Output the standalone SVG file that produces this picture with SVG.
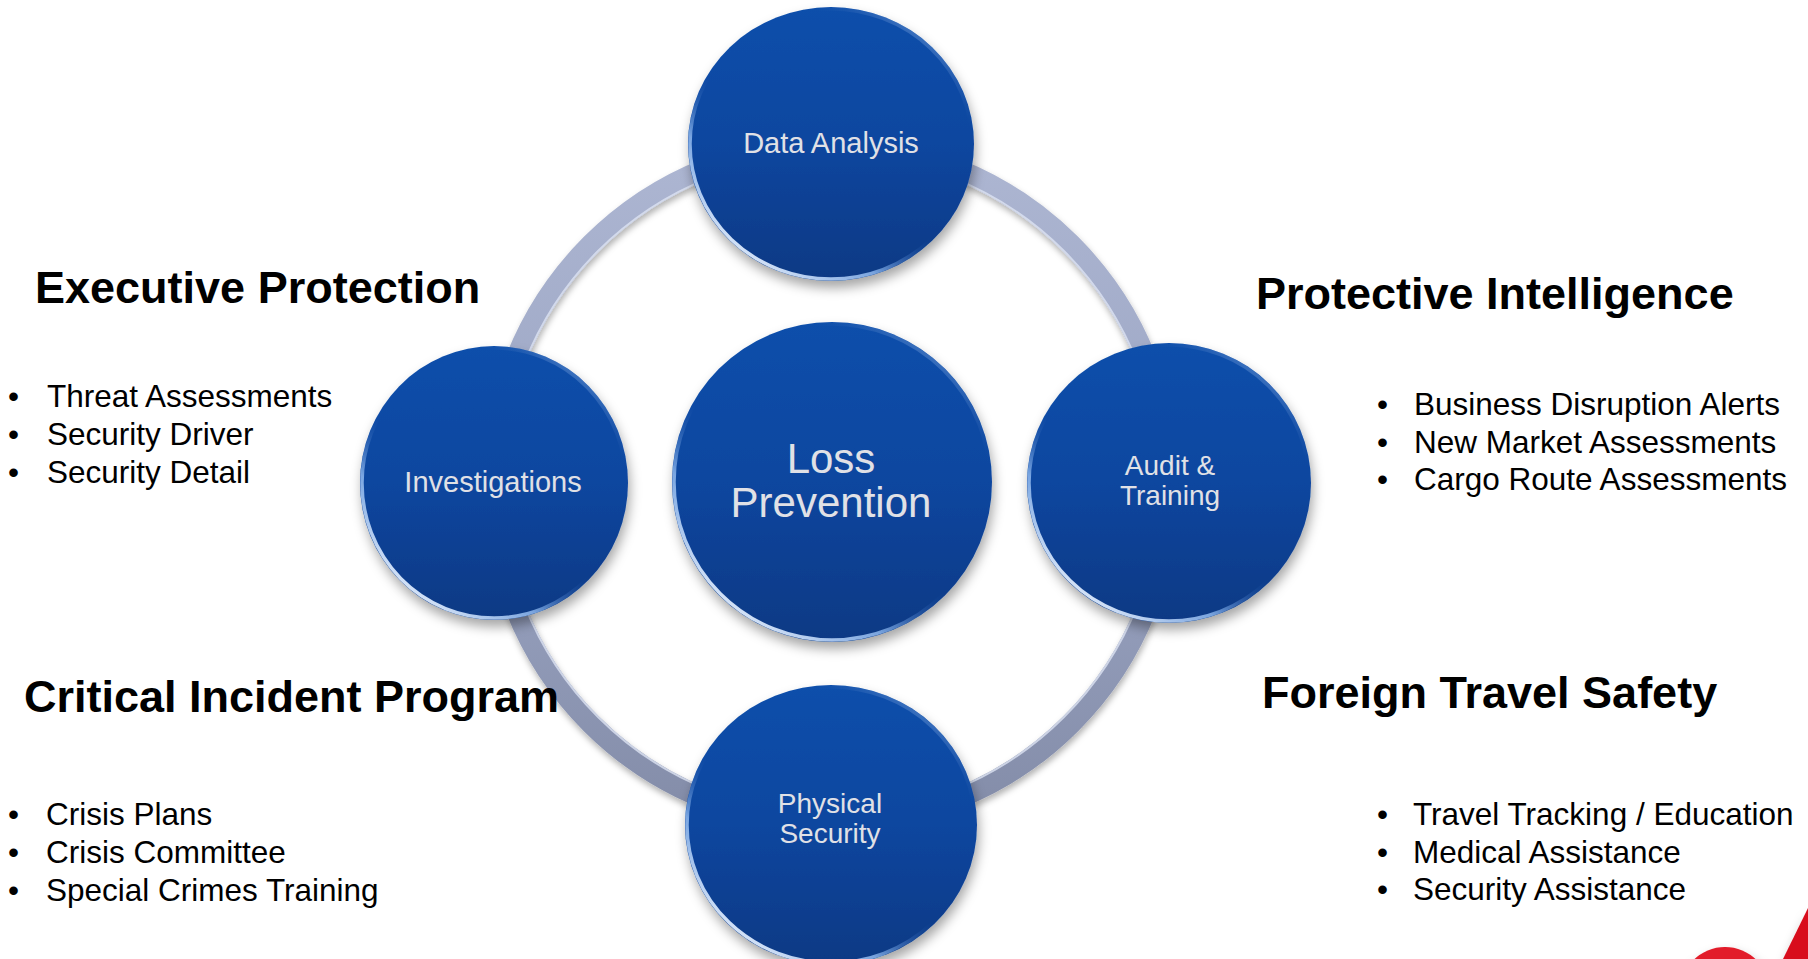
<svg xmlns="http://www.w3.org/2000/svg" width="1808" height="959" viewBox="0 0 1808 959">
<defs>
<linearGradient id="discFill" x1="0" y1="0" x2="0" y2="1">
<stop offset="0" stop-color="#0F4FAB"/>
<stop offset="0.5" stop-color="#0C469F"/>
<stop offset="1" stop-color="#0A3984"/>
</linearGradient>
<linearGradient id="rimGrad" x1="0.15" y1="0.95" x2="0.85" y2="0.05">
<stop offset="0" stop-color="#F0F6FF" stop-opacity="1"/>
<stop offset="0.25" stop-color="#8DB7EE" stop-opacity="0.85"/>
<stop offset="0.45" stop-color="#0C46A0" stop-opacity="0"/>
<stop offset="0.8" stop-color="#0C46A0" stop-opacity="0"/>
<stop offset="1" stop-color="#A9C9F4" stop-opacity="0.55"/>
</linearGradient>
<linearGradient id="ringGrad" x1="0" y1="0" x2="0" y2="1">
<stop offset="0" stop-color="#ADB6D2"/>
<stop offset="0.5" stop-color="#9CA6C4"/>
<stop offset="1" stop-color="#838CA8"/>
</linearGradient>
<filter id="shadow" x="-20%" y="-20%" width="140%" height="150%">
<feDropShadow dx="2" dy="7" stdDeviation="6" flood-color="#000" flood-opacity="0.35"/>
</filter>
<filter id="ringShadow" x="-10%" y="-10%" width="120%" height="120%">
<feDropShadow dx="1" dy="4" stdDeviation="3" flood-color="#000" flood-opacity="0.3"/>
</filter>
<style>
.disc{fill:url(#discFill);filter:url(#shadow);}
.rim{fill:none;stroke:url(#rimGrad);stroke-width:3.5;}
.lbl{font-family:"Liberation Sans",Arial,sans-serif;fill:#E0E1E6;text-anchor:middle;}
.head{font-family:"Liberation Sans",Arial,sans-serif;font-weight:bold;font-size:45px;fill:#000;}
.item{font-family:"Liberation Sans",Arial,sans-serif;font-size:31.5px;fill:#000;}
.ring{fill:none;stroke:url(#ringGrad);stroke-width:21;filter:url(#ringShadow);}
.ringHl{fill:none;stroke:#DDE3F2;stroke-width:2;opacity:0.8;}
</style>
</defs>
<rect width="1808" height="959" fill="#FFFFFF"/>

<g id="connectors">
<circle class="ring" cx="831" cy="484" r="339"/>
<circle class="ringHl" cx="831" cy="484" r="329.5"/>
</g>

<g id="node-data-analysis">
<ellipse class="disc" cx="831" cy="144" rx="143" ry="137"/>
<ellipse class="rim" cx="831" cy="144" rx="141" ry="135"/>
<text class="lbl" x="831" y="153" font-size="29">Data Analysis</text>
</g>

<g id="node-investigations">
<ellipse class="disc" cx="494" cy="483" rx="134" ry="137"/>
<ellipse class="rim" cx="494" cy="483" rx="132" ry="135"/>
<text class="lbl" x="493" y="492" font-size="29">Investigations</text>
</g>

<g id="node-audit-training">
<ellipse class="disc" cx="1169" cy="483" rx="142" ry="140"/>
<ellipse class="rim" cx="1169" cy="483" rx="140" ry="138"/>
<text class="lbl" x="1170" y="475" font-size="28">Audit &amp;</text>
<text class="lbl" x="1170" y="505" font-size="28">Training</text>
</g>

<g id="node-physical-security">
<ellipse class="disc" cx="831" cy="825" rx="146" ry="140"/>
<ellipse class="rim" cx="831" cy="825" rx="144" ry="138"/>
<text class="lbl" x="830" y="813" font-size="28">Physical</text>
<text class="lbl" x="830" y="843" font-size="28">Security</text>
</g>

<g id="node-loss-prevention">
<ellipse class="disc" cx="832" cy="482" rx="160" ry="160"/>
<ellipse class="rim" cx="832" cy="482" rx="158" ry="158"/>
<text class="lbl" x="831" y="473" font-size="42">Loss</text>
<text class="lbl" x="831" y="517" font-size="42">Prevention</text>
</g>

<g id="executive-protection">
<text class="head" x="35" y="303">Executive Protection</text>
<text class="item" x="8" y="407">•</text><text class="item" x="47" y="407">Threat Assessments</text>
<text class="item" x="8" y="445">•</text><text class="item" x="47" y="445">Security Driver</text>
<text class="item" x="8" y="483">•</text><text class="item" x="47" y="483">Security Detail</text>
</g>

<g id="protective-intelligence">
<text class="head" x="1256" y="309">Protective Intelligence</text>
<text class="item" x="1377" y="415">•</text><text class="item" x="1414" y="415">Business Disruption Alerts</text>
<text class="item" x="1377" y="453">•</text><text class="item" x="1414" y="453">New Market Assessments</text>
<text class="item" x="1377" y="490">•</text><text class="item" x="1414" y="490">Cargo Route Assessments</text>
</g>

<g id="critical-incident-program">
<text class="head" x="24" y="712">Critical Incident Program</text>
<text class="item" x="8" y="825">•</text><text class="item" x="46" y="825">Crisis Plans</text>
<text class="item" x="8" y="863">•</text><text class="item" x="46" y="863">Crisis Committee</text>
<text class="item" x="8" y="901">•</text><text class="item" x="46" y="901">Special Crimes Training</text>
</g>

<g id="foreign-travel-safety">
<text class="head" x="1262" y="708">Foreign Travel Safety</text>
<text class="item" x="1377" y="825">•</text><text class="item" x="1413" y="825">Travel Tracking / Education</text>
<text class="item" x="1377" y="863">•</text><text class="item" x="1413" y="863">Medical Assistance</text>
<text class="item" x="1377" y="900">•</text><text class="item" x="1413" y="900">Security Assistance</text>
</g>

<g id="corner-logo" filter="url(#shadow)">
<circle cx="1725" cy="992" r="45" fill="#E21B2A"/>
<polygon points="1783,959 1808,908 1808,959" fill="#D8101E"/>
</g>
</svg>
